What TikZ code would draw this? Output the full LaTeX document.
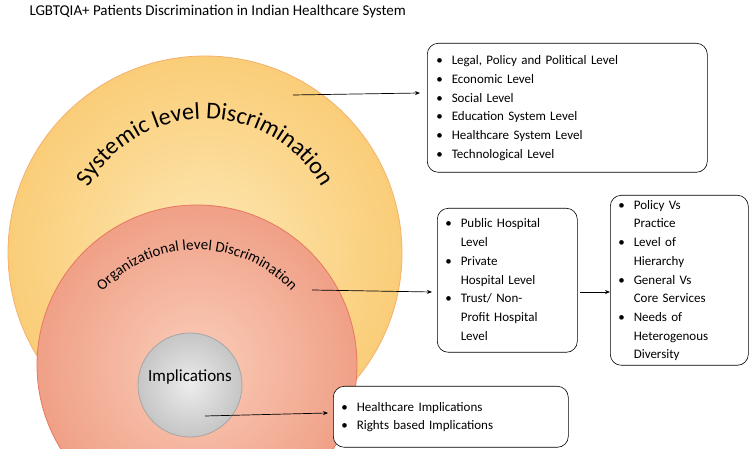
\documentclass[tikz,border=0pt]{standalone}
\usepackage{fontspec}
\setmainfont{Carlito}
\usetikzlibrary{decorations.text,arrows.meta}
\definecolor{bigin}{RGB}{253,232,180}
\definecolor{bigout}{RGB}{250,205,120}
\definecolor{bigline}{RGB}{244,177,110}
\definecolor{orin}{RGB}{250,205,185}
\definecolor{orout}{RGB}{240,160,135}
\definecolor{orline}{RGB}{232,120,95}
\begin{document}
\begin{tikzpicture}[x=1pt,y=1pt,
 box/.style={draw=black,line width=0.6pt,rounded corners=11pt,fill=white,inner sep=0pt,font=\fontsize{13}{15.6}\selectfont},
 arr/.style={-{Stealth[length=5pt,width=4pt]},line width=0.7pt}]
\useasboundingbox (0,0) rectangle (750,449);
\clip (0,0) rectangle (750,449);
\node[anchor=west,font=\fontsize{15}{18}\selectfont] (title) at (26,437) {LGBTQIA+ Patients Discrimination in Indian Healthcare System};
\shade[inner color=bigin,outer color=bigout] (205,196) circle (197);
\draw[draw=bigline,line width=0.8pt] (205,196) circle (197);
\shade[inner color=orin,outer color=orout] (197,84) circle (160);
\draw[draw=orline,line width=0.8pt] (197,84) circle (160);
\shade[inner color=gray!15,outer color=gray!45] (190,64) circle (52);
\draw[gray!70,line width=0.8pt] (190,64) circle (52);
\path[decorate,decoration={text along path,text align=center,text={|\fontsize{24}{28}\selectfont|Systemic level Discrimination}}]
 (205,196) ++(152:134) arc (152:28:134);
\path[decorate,decoration={text along path,text align=center,text={|\fontsize{15}{18}\selectfont|Organizational level Discrimination}}]
 (197,70) ++(144:129) arc (144:36:129);
\node[font=\fontsize{17}{20}\selectfont] (impl) at (190,72) {Implications};
\coordinate (s1) at (293,354);
\coordinate (o1) at (312,159);
\coordinate (i1) at (205,33);
\def\arraystretch{1.2}
\node[box,minimum width=280pt,minimum height=129pt,text width=262pt,anchor=north west] (b1) at (427,406) {%
\begin{tabular}{@{}l@{\hspace{9pt}}l@{}}
\textbullet & Legal, Policy and Political Level\\
\textbullet & Economic Level\\
\textbullet & Social Level\\
\textbullet & Education System Level\\
\textbullet & Healthcare System Level\\
\textbullet & Technological Level
\end{tabular}};
\node[box,minimum width=140pt,minimum height=144pt,text width=124pt,anchor=north west] (b2) at (437,241) {%
\begin{tabular}{@{}l@{\hspace{9pt}}l@{}}
\textbullet & Public Hospital\\
 & Level\\
\textbullet & Private\\
 & Hospital Level\\
\textbullet & Trust/ Non-\\
 & Profit Hospital\\
 & Level
\end{tabular}};
\node[box,minimum width=138pt,minimum height=170pt,text width=122pt,anchor=north west] (b3) at (610,254) {%
\begin{tabular}{@{}l@{\hspace{9pt}}l@{}}
\textbullet & Policy Vs\\
 & Practice\\
\textbullet & Level of\\
 & Hierarchy\\
\textbullet & General Vs\\
 & Core Services\\
\textbullet & Needs of\\
 & Heterogenous\\
 & Diversity
\end{tabular}};
\node[box,minimum width=235pt,minimum height=61pt,text width=219pt,anchor=north west] (b4) at (333,63) {%
\begin{tabular}{@{}l@{\hspace{9pt}}l@{}}
\textbullet & Healthcare Implications\\
\textbullet & Rights based Implications
\end{tabular}};
\coordinate (b2e) at (580,157);
\draw[arr] (s1) -- (420,356);
\draw[arr] (o1) -- (432,157);
\draw[arr] (b2e) -- (b3.west|-b2e);
\draw[arr] (i1) -- (328,36);
\end{tikzpicture}
\end{document}
